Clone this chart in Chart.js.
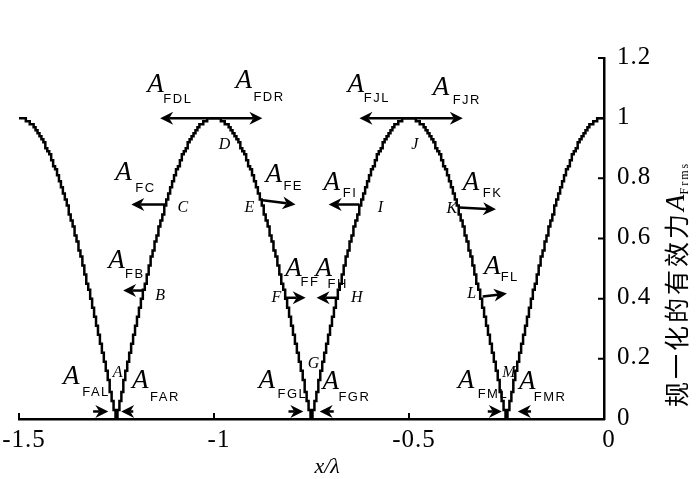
<!DOCTYPE html>
<html>
<head>
<meta charset="utf-8">
<script src="https://cdn.jsdelivr.net/npm/chart.js@4/dist/chart.umd.min.js"></script>
<style>
  html, body { margin: 0; padding: 0; background: #fff; }
</style>
</head>
<body>
<canvas id="chart" width="700" height="479"></canvas>
<script>
// sampling grid along x/lambda
const xStart = -1.5;
const xStep = 0.005;

// normalized effective force, one value per grid step (-1.5 .. 0)
const forceValues = [
  1.00, 1.00, 1.00, 1.00, 0.99, 0.99, 0.98, 0.98, 0.97, 0.96, 0.95, 0.94, 0.93, 0.92, 0.90, 0.89, 0.88, 0.86, 0.84, 0.83, 0.81, 0.79, 0.77, 0.75, 0.73, 0.71, 0.68, 0.66, 0.64, 0.61, 0.59, 0.56, 0.54, 0.51, 0.48, 0.45, 0.43, 0.40, 0.37, 0.34, 0.31, 0.28, 0.25, 0.22, 0.19, 0.16, 0.13, 0.09, 0.06, 0.03,
  0.00, 0.03, 0.06, 0.09, 0.13, 0.16, 0.19, 0.22, 0.25, 0.28, 0.31, 0.34, 0.37, 0.40, 0.43, 0.45, 0.48, 0.51, 0.54, 0.56, 0.59, 0.61, 0.64, 0.66, 0.68, 0.71, 0.73, 0.75, 0.77, 0.79, 0.81, 0.83, 0.84, 0.86, 0.88, 0.89, 0.90, 0.92, 0.93, 0.94, 0.95, 0.96, 0.97, 0.98, 0.98, 0.99, 0.99, 1.00, 1.00, 1.00,
  1.00, 1.00, 1.00, 1.00, 0.99, 0.99, 0.98, 0.98, 0.97, 0.96, 0.95, 0.94, 0.93, 0.92, 0.90, 0.89, 0.88, 0.86, 0.84, 0.83, 0.81, 0.79, 0.77, 0.75, 0.73, 0.71, 0.68, 0.66, 0.64, 0.61, 0.59, 0.56, 0.54, 0.51, 0.48, 0.45, 0.43, 0.40, 0.37, 0.34, 0.31, 0.28, 0.25, 0.22, 0.19, 0.16, 0.13, 0.09, 0.06, 0.03,
  0.00, 0.03, 0.06, 0.09, 0.13, 0.16, 0.19, 0.22, 0.25, 0.28, 0.31, 0.34, 0.37, 0.40, 0.43, 0.45, 0.48, 0.51, 0.54, 0.56, 0.59, 0.61, 0.64, 0.66, 0.68, 0.71, 0.73, 0.75, 0.77, 0.79, 0.81, 0.83, 0.84, 0.86, 0.88, 0.89, 0.90, 0.92, 0.93, 0.94, 0.95, 0.96, 0.97, 0.98, 0.98, 0.99, 0.99, 1.00, 1.00, 1.00,
  1.00, 1.00, 1.00, 1.00, 0.99, 0.99, 0.98, 0.98, 0.97, 0.96, 0.95, 0.94, 0.93, 0.92, 0.90, 0.89, 0.88, 0.86, 0.84, 0.83, 0.81, 0.79, 0.77, 0.75, 0.73, 0.71, 0.68, 0.66, 0.64, 0.61, 0.59, 0.56, 0.54, 0.51, 0.48, 0.45, 0.43, 0.40, 0.37, 0.34, 0.31, 0.28, 0.25, 0.22, 0.19, 0.16, 0.13, 0.09, 0.06, 0.03,
  0.00, 0.03, 0.06, 0.09, 0.13, 0.16, 0.19, 0.22, 0.25, 0.28, 0.31, 0.34, 0.37, 0.40, 0.43, 0.45, 0.48, 0.51, 0.54, 0.56, 0.59, 0.61, 0.64, 0.66, 0.68, 0.71, 0.73, 0.75, 0.77, 0.79, 0.81, 0.83, 0.84, 0.86, 0.88, 0.89, 0.90, 0.92, 0.93, 0.94, 0.95, 0.96, 0.97, 0.98, 0.98, 0.99, 0.99, 1.00, 1.00, 1.00,
  1.00
];

const xTicks = [-1.5, -1, -0.5, 0];
const xTickLabels = ['-1.5', '-1', '-0.5', '0'];
const yTicks = [0, 0.2, 0.4, 0.6, 0.8, 1, 1.2];
const yTickLabels = ['0', '0.2', '0.4', '0.6', '0.8', '1', '1.2'];

// force arrows: [fromX, fromY, toX, toY] in data units
const arrows = [
  [-1, 1, -1.138, 1], [-1, 1, -0.876, 1],
  [-0.5, 1, -0.627, 1], [-0.5, 1, -0.362, 1],
  [-1.125, 0.713, -1.212, 0.713], [-1.181, 0.427, -1.233, 0.427],
  [-0.875, 0.727, -0.791, 0.713], [-0.819, 0.403, -0.765, 0.403],
  [-0.681, 0.403, -0.737, 0.403], [-0.627, 0.713, -0.706, 0.713],
  [-0.372, 0.703, -0.277, 0.697], [-0.311, 0.407, -0.249, 0.417],
  [-1.310, 0.025, -1.271, 0.025], [-1.207, 0.025, -1.238, 0.025],
  [-0.809, 0.025, -0.771, 0.025], [-0.693, 0.025, -0.729, 0.025],
  [-0.298, 0.025, -0.262, 0.025], [-0.187, 0.025, -0.221, 0.025]
];

// force labels: subscript, A position, subscript position (data units, baselines)
const forceLabels = [
  ['FDL', -1.171, 1.087, -1.130, 1.050],
  ['FDR', -0.945, 1.100, -0.899, 1.057],
  ['FJL', -0.658, 1.087, -0.616, 1.053],
  ['FJR', -0.439, 1.077, -0.388, 1.047],
  ['FC', -1.253, 0.793, -1.202, 0.753],
  ['FE', -0.868, 0.787, -0.822, 0.760],
  ['FI', -0.719, 0.760, -0.670, 0.737],
  ['FB', -1.271, 0.503, -1.228, 0.470],
  ['FF', -0.817, 0.477, -0.778, 0.443],
  ['FH', -0.740, 0.477, -0.709, 0.437],
  ['FK', -0.362, 0.760, -0.311, 0.737],
  ['FL', -0.308, 0.483, -0.265, 0.460],
  ['FAL', -1.387, 0.117, -1.338, 0.077],
  ['FAR', -1.210, 0.103, -1.164, 0.060],
  ['FGL', -0.886, 0.103, -0.837, 0.070],
  ['FGR', -0.722, 0.100, -0.681, 0.060],
  ['FML', -0.375, 0.103, -0.324, 0.070],
  ['FMR', -0.218, 0.100, -0.180, 0.060]
];

// point names on the curve (centre, data units)
const pointNames = [
  ['A', -1.247, 0.155], ['B', -1.138, 0.41], ['C', -1.080, 0.702],
  ['D', -0.973, 0.91], ['E', -0.909, 0.702], ['F', -0.840, 0.402],
  ['G', -0.745, 0.183], ['H', -0.634, 0.402], ['I', -0.573, 0.703],
  ['J', -0.485, 0.913], ['K', -0.390, 0.70], ['L', -0.339, 0.417],
  ['M', -0.244, 0.152]
];

const points = forceValues.map((v, i) => ({ x: xStart + i * xStep, y: v }));

function drawArrow(ctx, x1, y1, x2, y2) {
  const ang = Math.atan2(y2 - y1, x2 - x1);
  const len = 13, half = 6.5, notch = 4;
  ctx.lineWidth = 2.5;
  ctx.beginPath();
  ctx.moveTo(x1, y1);
  ctx.lineTo(x2 - Math.cos(ang) * (len - notch), y2 - Math.sin(ang) * (len - notch));
  ctx.stroke();
  ctx.save();
  ctx.translate(x2, y2);
  ctx.rotate(ang);
  ctx.beginPath();
  ctx.moveTo(0, 0);
  ctx.lineTo(-len, -half);
  ctx.lineTo(-len + notch, 0);
  ctx.lineTo(-len, half);
  ctx.closePath();
  ctx.fill();
  ctx.restore();
}

const decor = {
  id: 'decor',
  afterDraw(chart) {
    const ctx = chart.ctx;
    const area = chart.chartArea;
    const X = v => chart.scales.x.getPixelForValue(v);
    const Y = v => chart.scales.y.getPixelForValue(v);
    ctx.save();
    ctx.fillStyle = '#000';
    ctx.strokeStyle = '#000';

    // inward tick marks
    ctx.lineWidth = 2;
    ctx.beginPath();
    xTicks.forEach(v => { ctx.moveTo(X(v), area.bottom); ctx.lineTo(X(v), area.bottom - 6); });
    yTicks.forEach(v => { ctx.moveTo(area.right, Y(v)); ctx.lineTo(area.right - 6, Y(v)); });
    ctx.stroke();

    // tick labels
    ctx.font = '25px "Liberation Serif"';
    ctx.letterSpacing = '1px';
    ctx.textAlign = 'center';
    ctx.textBaseline = 'alphabetic';
    xTicks.forEach((v, i) => ctx.fillText(xTickLabels[i], X(v) + 5, area.bottom + 28));
    ctx.textAlign = 'left';
    ctx.textBaseline = 'middle';
    yTicks.forEach((v, i) => ctx.fillText(yTickLabels[i], area.right + 13, Y(v) - 1));
    ctx.letterSpacing = '0px';

    // x axis title
    ctx.font = 'italic 22px "Liberation Serif"';
    ctx.textAlign = 'center';
    ctx.textBaseline = 'alphabetic';
    ctx.fillText('x/λ', X(-0.71), area.bottom + 54);

    // y axis title, reading bottom to top
    ctx.save();
    ctx.translate(area.right + 72, area.bottom - 12);
    ctx.rotate(-Math.PI / 2);
    ctx.textAlign = 'left';
    ctx.textBaseline = 'middle';
    ctx.font = '25px "Noto Sans CJK SC"';
    ctx.letterSpacing = '3px';
    const zh = '规一化的有效力';
    ctx.fillText(zh, 0, 0);
    let w = ctx.measureText(zh).width;
    ctx.letterSpacing = '0px';
    ctx.font = 'italic 27px "Liberation Serif"';
    ctx.fillText('A', w, 1);
    w += ctx.measureText('A').width;
    ctx.font = '12px "Liberation Serif"';
    ctx.letterSpacing = '2px';
    ctx.fillText('Frms', w, 9);
    ctx.letterSpacing = '0px';
    ctx.restore();

    // arrows
    arrows.forEach(a => drawArrow(ctx, X(a[0]), Y(a[1]), X(a[2]), Y(a[3])));

    // force labels
    ctx.textAlign = 'left';
    ctx.textBaseline = 'alphabetic';
    forceLabels.forEach(l => {
      ctx.font = 'italic 27px "Liberation Serif"';
      ctx.letterSpacing = '0px';
      ctx.fillText('A', X(l[1]), Y(l[2]));
      ctx.font = '13px "Liberation Sans"';
      ctx.letterSpacing = '1.5px';
      ctx.fillText(l[0], X(l[3]), Y(l[4]));
    });
    ctx.letterSpacing = '0px';

    // point names
    ctx.font = 'italic 16px "Liberation Serif"';
    ctx.textAlign = 'center';
    ctx.textBaseline = 'middle';
    pointNames.forEach(p => ctx.fillText(p[0], X(p[1]), Y(p[2])));

    ctx.restore();
  }
};

new Chart(document.getElementById('chart'), {
  type: 'line',
  data: {
    datasets: [{
      data: points,
      borderColor: '#000',
      borderWidth: 2.5,
      pointRadius: 0,
      stepped: 'middle',
      fill: false
    }]
  },
  options: {
    responsive: false,
    animation: false,
    devicePixelRatio: 1,
    layout: { padding: { left: 19, top: 58, right: 0, bottom: 0 } },
    plugins: { legend: { display: false }, tooltip: { enabled: false } },
    scales: {
      x: {
        type: 'linear',
        min: -1.5,
        max: 0,
        grid: { display: false },
        border: { display: true, color: '#000', width: 2.5 },
        ticks: { display: false },
        afterBuildTicks: s => { s.ticks = xTicks.map(v => ({ value: v })); },
        afterFit: s => { s.height = 60; }
      },
      y: {
        position: 'right',
        min: 0,
        max: 1.2,
        grid: { display: false },
        border: { display: true, color: '#000', width: 2.5 },
        ticks: { display: false },
        afterBuildTicks: s => { s.ticks = yTicks.map(v => ({ value: v })); },
        afterFit: s => { s.width = 96; }
      }
    }
  },
  plugins: [decor]
});
</script>
</body>
</html>
